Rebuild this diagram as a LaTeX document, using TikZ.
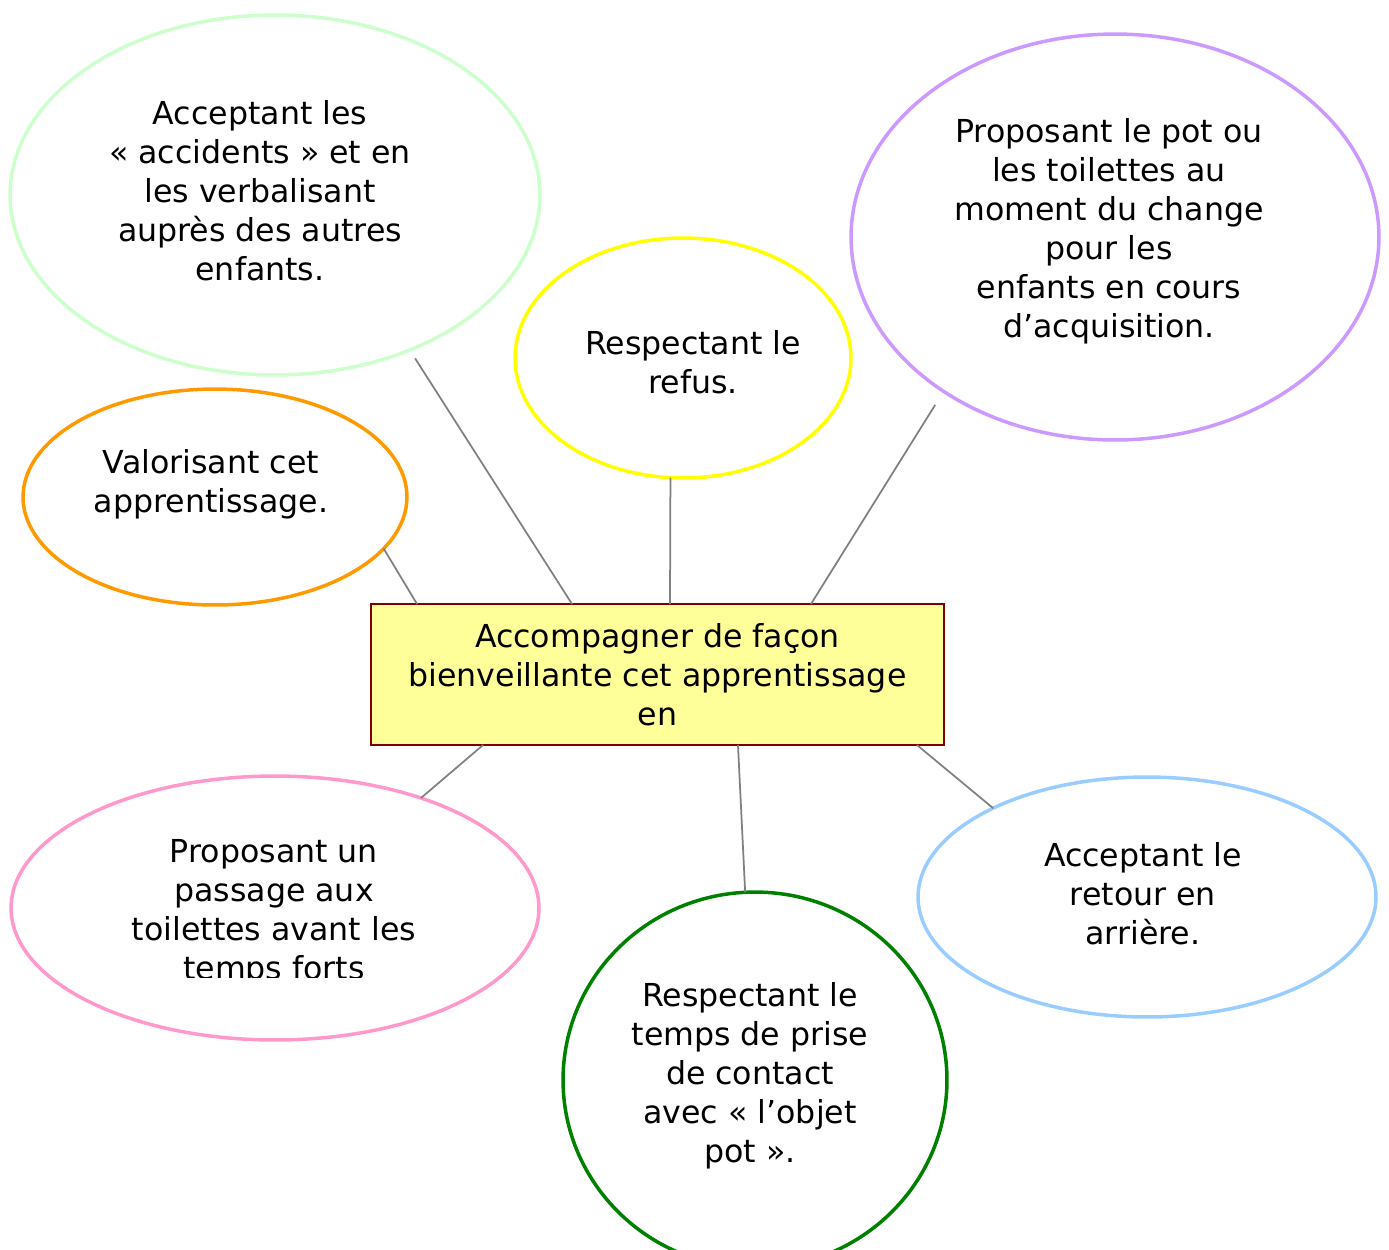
\documentclass[tikz,border=0pt]{standalone}
\usepackage{fontspec}
\setmainfont{DejaVu Sans}
\usetikzlibrary{shapes.geometric}

\definecolor{vertpale}{HTML}{CCFFCC}
\definecolor{jaune}{HTML}{FFFF00}
\definecolor{mauve}{HTML}{CC99FF}
\definecolor{orange}{HTML}{FF9900}
\definecolor{rose}{HTML}{FF99CC}
\definecolor{vertfonce}{HTML}{008000}
\definecolor{bleuclair}{HTML}{99CCFF}
\definecolor{jaunepale}{HTML}{FFFF99}
\definecolor{bordeaux}{HTML}{800000}
\definecolor{gristrait}{HTML}{808080}

\begin{document}
\begin{tikzpicture}[
    x=0.02cm, y=-0.02cm,
    bubble/.style = {ellipse, draw, line width=0.07cm, inner sep=0pt, outer sep=0pt},
    txt/.style = {align=center, inner sep=0pt, font=\fontsize{18pt}{22.2pt}\selectfont},
    centre/.style = {rectangle, draw=bordeaux, fill=jaunepale, line width=0.045cm, outer sep=0pt,
        minimum width=11.46cm, minimum height=2.82cm, txt},
    link/.style = {draw=gristrait, line width=0.035cm}
]
    \useasboundingbox (0,0) rectangle (1389,1249);
    \clip (0,0) rectangle (1389,1249);

    % Central idea
    \node[centre] (main) at (657.5,674.5) {Accompagner de façon\\bienveillante cet apprentissage\\en};

    % Surrounding bubbles
    \node[bubble, draw=vertpale, minimum width=10.6cm, minimum height=7.2cm] (accidents) at (275,195) {};
    \node[bubble, draw=jaune, minimum width=6.72cm, minimum height=4.8cm] (refus) at (683,358) {};
    \node[bubble, draw=mauve, minimum width=10.56cm, minimum height=8.12cm] (toilettes) at (1115,237) {};
    \node[bubble, draw=orange, minimum width=7.68cm, minimum height=4.32cm] (valoriser) at (215,497) {};
    \node[bubble, draw=rose, minimum width=10.56cm, minimum height=5.28cm] (passage) at (275,908) {};
    \node[bubble, draw=vertfonce, minimum width=7.68cm, minimum height=7.52cm] (contact) at (755,1080) {};
    \node[bubble, draw=bleuclair, minimum width=9.16cm, minimum height=4.8cm] (retour) at (1147,897) {};

    % Texts of the bubbles
    \node[txt] (accidents-txt) at (260,191) {Acceptant les\\« accidents » et en\\les verbalisant\\auprès des autres\\enfants.};
    \node[txt] (refus-txt) at (693,362) {Respectant le\\refus.};
    \node[txt] (toilettes-txt) at (1109,231) {Proposant le pot ou\\les toilettes au\\moment du change\\pour les\\enfants en cours\\d’acquisition.};
    \node[txt] (valoriser-txt) at (211,484) {Valorisant cet\\apprentissage.};
    \begin{scope}
        \clip (0,0) rectangle (1389,977);
        \node[txt] (passage-txt) at (274,913) {Proposant un\\passage aux\\toilettes avant les\\temps forts};
    \end{scope}
    \node[txt] (contact-txt) at (750,1076) {Respectant le\\temps de prise\\de contact\\avec « l’objet\\pot ».};
    \node[txt] (retour-txt) at (1143,894) {Acceptant le\\retour en\\arrière.};

    % Connecting lines
    \draw[link, shorten <=0.2cm] (accidents.-49) -- ([xshift=4.02cm]main.north west);
    \draw[link] (refus.264) -- ([xshift=5.98cm]main.north west);
    \draw[link, shorten <=0.32cm] (toilettes.222) -- ([xshift=8.8cm]main.north west);
    \draw[link] (valoriser.-17) -- ([xshift=0.92cm]main.north west);
    \draw[link] ([xshift=2.24cm]main.south west) -- (passage.37);
    \draw[link] ([xshift=7.34cm]main.south west) -- (contact.93);
    \draw[link] ([xshift=10.92cm]main.south west) -- (retour.150);
\end{tikzpicture}
\end{document}
